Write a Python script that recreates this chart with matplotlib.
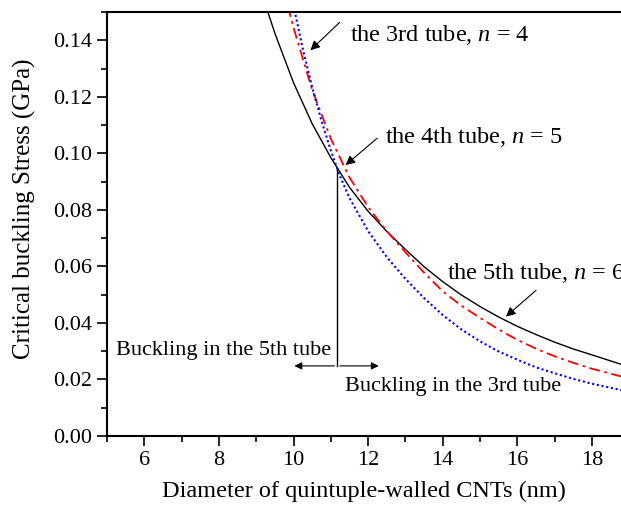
import matplotlib
matplotlib.use("Agg")
import matplotlib.pyplot as plt
from matplotlib.ticker import MultipleLocator, FormatStrFormatter

plt.rcParams['font.family'] = ['Liberation Serif', 'DejaVu Serif']
plt.rcParams['mathtext.fontset'] = 'custom'
plt.rcParams['mathtext.rm'] = 'Liberation Serif'
plt.rcParams['mathtext.it'] = 'Liberation Serif:italic'

# values
# the 5th tube, n = 6 (solid black)
d_5th = [9.2, 9.5, 10.0, 10.5, 11.0, 11.5, 12.0, 12.5, 13.0, 13.5, 14.0, 14.5, 15.0,
         15.5, 16.0, 16.5, 17.0, 17.5, 18.0, 18.8]
s_5th = [0.1545, 0.1425, 0.1250, 0.1105, 0.0985, 0.0880, 0.0795, 0.0724, 0.0660,
         0.0599, 0.0546, 0.0499, 0.0458, 0.0421, 0.0388, 0.0359, 0.0332, 0.0308,
         0.0287, 0.0253]
# the 4th tube, n = 5 (red dash-dot)
d_4th = [9.85, 10.0, 10.5, 11.0, 11.5, 12.0, 12.5, 13.0, 13.5, 14.0, 14.5, 15.0,
         15.5, 16.0, 16.5, 17.0, 17.5, 18.0, 18.8]
s_4th = [0.1520, 0.1445, 0.1225, 0.1052, 0.0915, 0.0810, 0.0725, 0.0650, 0.0578,
         0.0512, 0.0461, 0.0418, 0.0377, 0.0340, 0.0309, 0.0282, 0.0259, 0.0238, 0.0210]
# the 3rd tube, n = 4 (blue dotted)
d_3rd = [10.0, 10.25, 10.5, 10.75, 11.0, 11.25, 11.5, 12.0, 12.5, 13.0, 13.5, 14.0,
         14.5, 15.0, 15.5, 16.0, 16.5, 17.0, 17.5, 18.0, 18.8]
s_3rd = [0.1523, 0.1369, 0.1234, 0.1115, 0.1010, 0.0918, 0.0842, 0.0725, 0.0633,
         0.0556, 0.0488, 0.0428, 0.0377, 0.0335, 0.0299, 0.0270, 0.0243, 0.0222,
         0.0202, 0.0185, 0.0162]

# crossover diameter and the point where the curves meet
d_cross = 11.17
s_cross = 0.0946
s_arrow = 0.0248

fig = plt.figure(figsize=(6.21, 5.05), dpi=100)
ax = fig.add_axes([107 / 621, 69 / 505, 514 / 621, 424 / 505])

ax.plot(d_5th, s_5th, color='black', lw=1.0, ls='-')
ax.plot(d_4th, s_4th, color='red', lw=1.3, ls=(0, (6, 2.5, 1.5, 2.5)))
ax.plot(d_3rd, s_3rd, color='blue', lw=1.5, ls=(0, (1, 1.3)))

ax.set_xlim(5, 18.78)
ax.set_ylim(0, 0.15)
ax.xaxis.set_major_locator(MultipleLocator(2))
ax.xaxis.set_minor_locator(MultipleLocator(1))
ax.yaxis.set_major_locator(MultipleLocator(0.02))
ax.yaxis.set_minor_locator(MultipleLocator(0.01))
ax.yaxis.set_major_formatter(FormatStrFormatter('%.2f'))
ax.tick_params(which='major', direction='out', length=7, width=1.2, labelsize=16)
ax.tick_params(which='minor', direction='out', length=4, width=1.2)
ax.spines['right'].set_visible(False)
for s in ['left', 'bottom', 'top']:
    ax.spines[s].set_linewidth(1.5)

ax.set_xlabel('Diameter of quintuple-walled CNTs (nm)', fontsize=17.5, labelpad=8)
ax.set_ylabel('Critical buckling Stress (GPa)', fontsize=18)
ax.yaxis.set_label_coords(-0.138, 0.535)

arrow = dict(arrowstyle='-|>', color='black', lw=0.8, mutation_scale=14)
ax.annotate('', xy=(10.40, 0.1358), xytext=(11.29, 0.147), arrowprops=arrow)
ax.text(11.51, 0.1417, r'the 3rd tube, $n$ = 4', fontsize=17.5, va='center')
ax.annotate('', xy=(11.34, 0.0952), xytext=(12.30, 0.1060), arrowprops=arrow)
ax.text(12.45, 0.1057, r'the 4th tube, $n$ = 5', fontsize=17.5, va='center')
ax.annotate('', xy=(15.64, 0.0416), xytext=(16.56, 0.0522), arrowprops=arrow)
ax.text(14.11, 0.0577, r'the 5th tube, $n$ = 6', fontsize=17.5, va='center')

# transition marker
ax.plot([d_cross, d_cross], [s_cross, s_arrow], color='black', lw=1.0)
small = dict(arrowstyle='-|>', color='black', lw=0.8, mutation_scale=11)
ax.annotate('', xy=(9.95, s_arrow), xytext=(d_cross, s_arrow), arrowprops=small)
ax.annotate('', xy=(12.36, s_arrow), xytext=(d_cross, s_arrow), arrowprops=small)
ax.text(5.24, 0.0304, 'Buckling in the 5th tube', fontsize=16, va='center')
ax.text(11.38, 0.0174, 'Buckling in the 3rd tube', fontsize=16, va='center')

fig.savefig('out.png', dpi=100)
